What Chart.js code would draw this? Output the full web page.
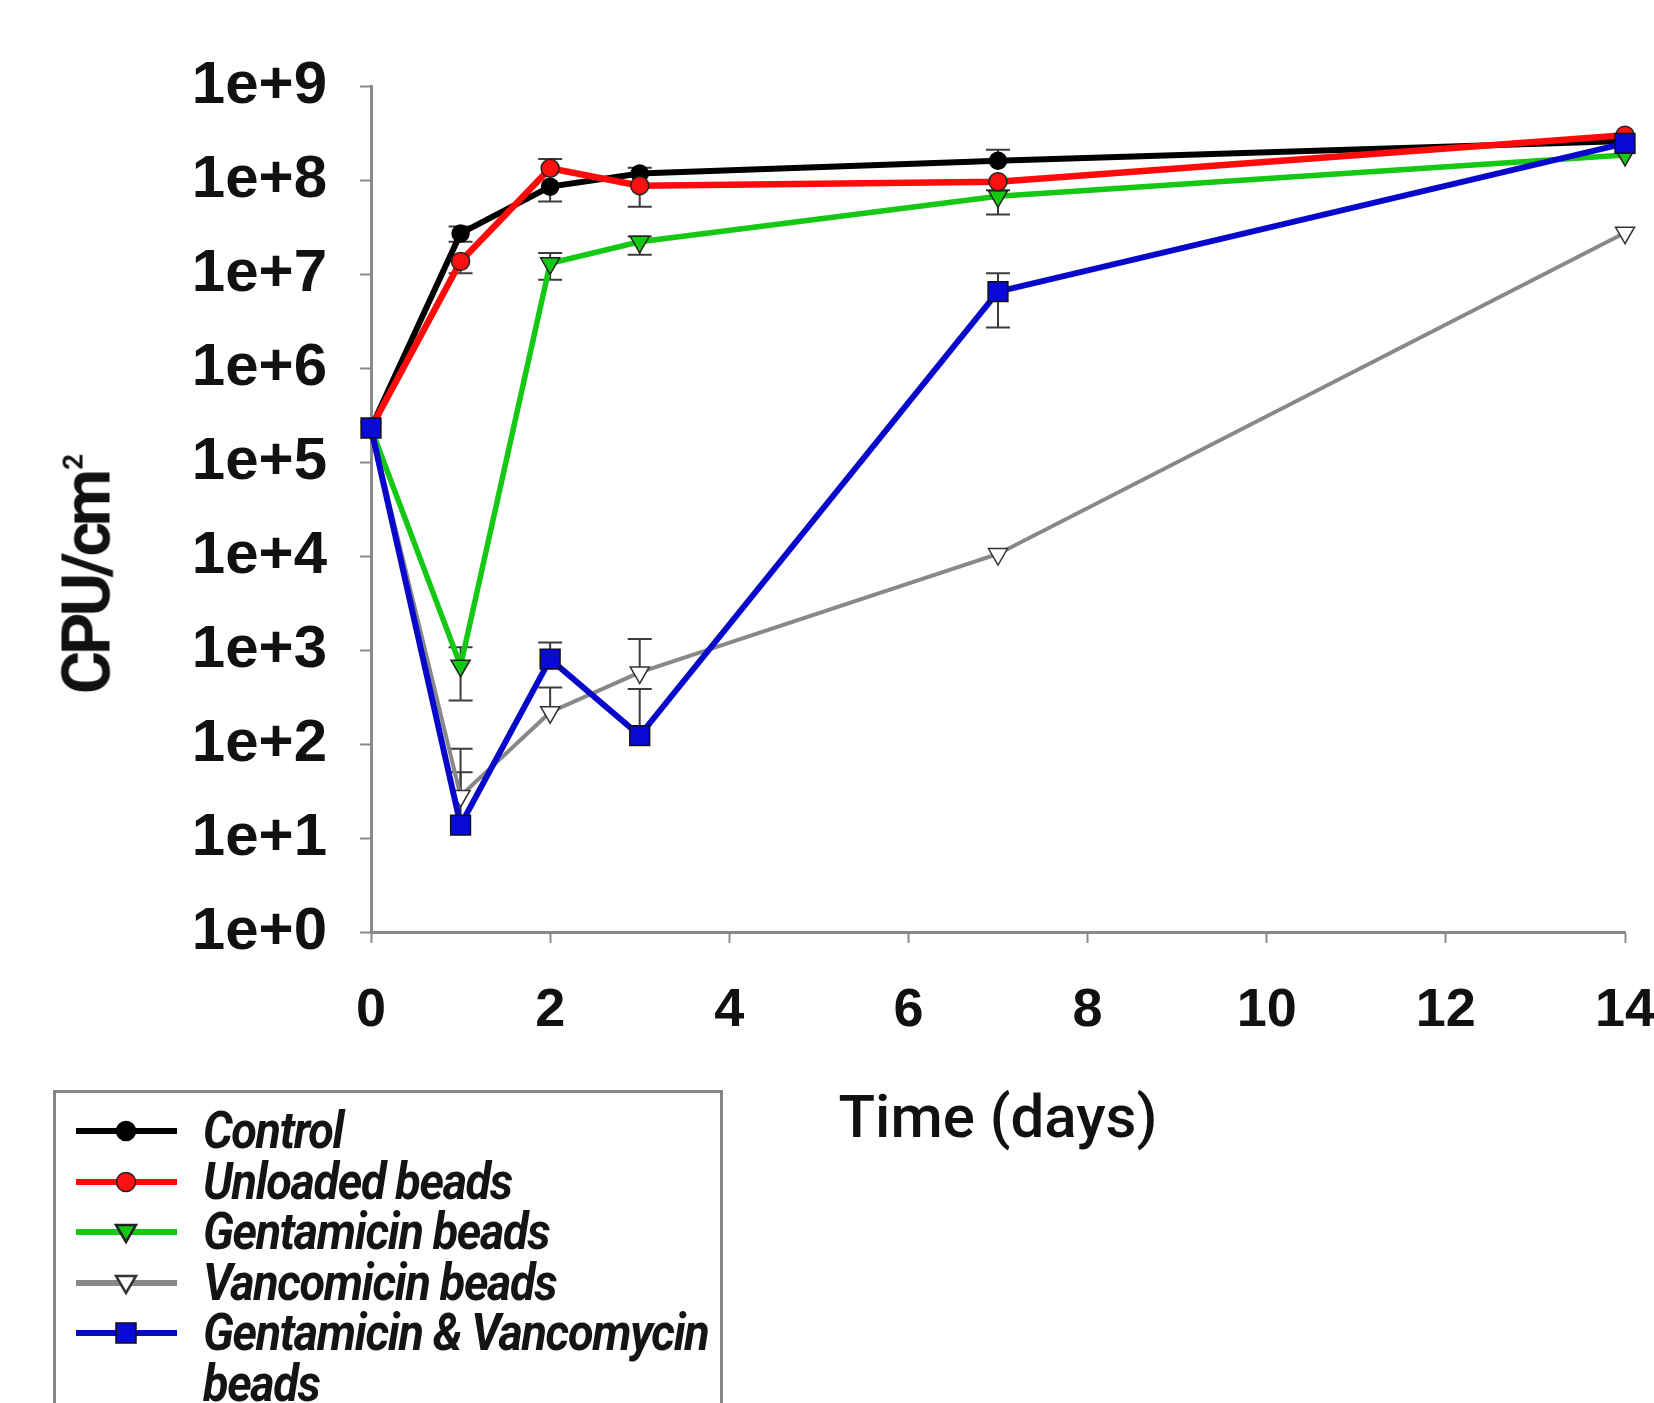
<!DOCTYPE html>
<html>
<head>
<meta charset="utf-8">
<script src="https://cdn.jsdelivr.net/npm/chart.js@4.4.0/dist/chart.umd.min.js"></script>
<style>
  body { margin: 0; background: #fff; }
  #wrap { position: relative; width: 1654px; height: 1403px; overflow: hidden; }
  #chart { position: absolute; left: 0; top: 0; }
  #ytitle {
    position: absolute; left: 87px; top: 574px;
    transform: translate(-50%, -50%) rotate(-90deg);
    font: 700 66px Roboto, sans-serif; color: #111; white-space: nowrap; letter-spacing: -4px;
  }
  #ytitle .sup { font-size: 28px; position: relative; top: -27px; vertical-align: baseline; letter-spacing: 0; margin-left: 3px; }
  #legend {
    position: absolute; left: 53px; top: 1090px; width: 670px; height: 420px;
    border: 3px solid #858585; box-sizing: border-box;
  }
  .item { position: absolute; left: 20px; height: 50px; }
  .item svg { position: absolute; left: 0; top: 0; }
  .item .txt {
    position: absolute; left: 127px; top: 0; width: 600px;
    font: italic 700 52px Roboto, sans-serif; color: #141414; line-height: 50.6px;
    transform: scaleX(0.9); transform-origin: 0 0; letter-spacing: -1.5px;
  }
</style>
</head>
<body>
<div id="wrap">
  <canvas id="chart" width="1654" height="1403"></canvas>
  <div id="ytitle">CPU/cm<span class="sup">2</span></div>
  <div id="legend"></div>
</div>
<script>
// time points (days)
const days = [0, 1, 2, 3, 7, 14];

const seriesNames = ['Control', 'Unloaded beads', 'Gentamicin beads', 'Vancomicin beads', 'Gentamicin & Vancomycin beads'];

// CFU per cm2
const control    = [2.3e5, 2.7e7, 8.5e7, 1.17e8, 1.6e8, 2.6e8];
const unloaded   = [2.3e5, 1.36e7, 1.33e8, 8.7e7, 9.6e7, 3.0e8];
const gentamicin = [2.3e5, 680, 1.3e7, 2.2e7, 6.7e7, 1.85e8];
const vancomicin = [2.3e5, 28, 218, 578, 1.05e4, 2.75e7];
const combined   = [2.3e5, 13.7, 800, 123, 6.5e6, 2.45e8];

// error bar ends [lower, upper], null where not shown
const controlErr    = [null, [2.2e7, 3.2e7], [5.9e7, null], [null, 1.35e8], [null, 2.1e8], null];
const unloadedErr   = [null, [1.02e7, null], [null, 1.67e8], [5.2e7, null], [7.8e7, null], null];
const gentamicinErr = [null, [290, 1070], [8.7e6, 1.67e7], [1.6e7, 2.5e7], [4.3e7, null], null];
const vancomicinErr = [null, [null, 89], [null, 400], [null, 1310], null, null];
const combinedErr   = [null, [null, 50], [null, 1200], [null, 385], [2.7e6, 1.02e7], null];

const yTickValues = [1, 1e1, 1e2, 1e3, 1e4, 1e5, 1e6, 1e7, 1e8, 1e9];
const yTickLabels = ['1e+0', '1e+1', '1e+2', '1e+3', '1e+4', '1e+5', '1e+6', '1e+7', '1e+8', '1e+9'];
const xTickValues = [0, 2, 4, 6, 8, 10, 12, 14];

function pts(vals) { return vals.map((v, i) => ({ x: days[i], y: v })); }

const errorBars = {
  id: 'errorBars',
  beforeDatasetsDraw(chart) {
    const { ctx, scales: { x, y } } = chart;
    ctx.save();
    ctx.strokeStyle = '#3c3c3c';
    ctx.lineWidth = 2;
    chart.data.datasets.forEach(ds => {
      ds.errors.forEach((e, i) => {
        if (!e) return;
        const px = x.getPixelForValue(days[i]);
        const py = y.getPixelForValue(ds.data[i].y);
        e.forEach(end => {
          if (end == null) return;
          const ey = y.getPixelForValue(end);
          ctx.beginPath();
          ctx.moveTo(px, py); ctx.lineTo(px, ey);
          ctx.moveTo(px - 12, ey); ctx.lineTo(px + 12, ey);
          ctx.stroke();
        });
      });
    });
    ctx.restore();
  }
};

const datasets = [
  { label: seriesNames[0], data: pts(control), errors: controlErr, borderColor: '#000', borderWidth: 6,
    pointStyle: 'circle', pointRadius: 8.5, pointBackgroundColor: '#000', pointBorderColor: '#000', order: 3 },
  { label: seriesNames[1], data: pts(unloaded), errors: unloadedErr, borderColor: '#ff0a0a', borderWidth: 6.5,
    pointStyle: 'circle', pointRadius: 9, pointBackgroundColor: '#ff1010', pointBorderColor: '#222', order: 1 },
  { label: seriesNames[2], data: pts(gentamicin), errors: gentamicinErr, borderColor: '#14c814', borderWidth: 5.5,
    pointStyle: 'triangle', pointRotation: 180, pointRadius: 11, pointBackgroundColor: '#14c814', pointBorderColor: '#222', order: 2 },
  { label: seriesNames[3], data: pts(vancomicin), errors: vancomicinErr, borderColor: '#888', borderWidth: 4,
    pointStyle: 'triangle', pointRotation: 180, pointRadius: 11, pointBackgroundColor: '#fff', pointBorderColor: '#333', order: 4 },
  { label: seriesNames[4], data: pts(combined), errors: combinedErr, borderColor: '#0808cc', borderWidth: 6,
    pointStyle: 'rect', pointRadius: 14, pointBackgroundColor: '#0a0ad8', pointBorderColor: '#111', order: 0 },
];
datasets.forEach(d => { d.pointBorderWidth = 1.5; d.tension = 0; d.fill = false; d.clip = false; });

const chart = new Chart(document.getElementById('chart'), {
  type: 'line',
  data: { datasets },
  options: {
    responsive: false,
    animation: false,
    layout: { padding: { top: 86, right: 29, bottom: 0, left: 0 } },
    plugins: { legend: { display: false }, tooltip: { enabled: false } },
    scales: {
      x: {
        type: 'linear', min: 0, max: 14,
        afterFit(s) { s.height = 471; s.paddingLeft = 0; s.paddingRight = 0; },
        afterBuildTicks(s) { s.ticks = xTickValues.map(v => ({ value: v })); },
        grid: { drawOnChartArea: false, drawTicks: true, tickLength: 11, tickColor: '#8a8a8a', tickWidth: 2 },
        border: { display: true, color: '#8a8a8a', width: 3 },
        ticks: { color: '#111', padding: 36, maxRotation: 0, font: { family: 'Liberation Sans', weight: 'bold', size: 54 } },
        title: { display: true, text: 'Time (days)', color: '#111', padding: { top: 0, bottom: 245 },
          font: { family: 'Roboto', weight: '500', size: 60 } }
      },
      y: {
        type: 'logarithmic', min: 1, max: 1e9,
        afterFit(s) { s.width = 371; },
        afterBuildTicks(s) { s.ticks = yTickValues.map(v => ({ value: v })); },
        grid: { drawOnChartArea: false, drawTicks: true, tickLength: 11, tickColor: '#8a8a8a', tickWidth: 2 },
        border: { display: true, color: '#8a8a8a', width: 3 },
        ticks: {
          color: '#111', padding: 33, font: { family: 'Liberation Sans', weight: 'bold', size: 60 },
          callback: (v) => { const k = yTickValues.indexOf(v); return k >= 0 ? yTickLabels[k] : ''; }
        }
      }
    }
  },
  plugins: [errorBars]
});

// html legend built from the datasets
const legend = document.getElementById('legend');
chart.data.datasets.forEach((ds, i) => {
  const item = document.createElement('div');
  item.className = 'item';
  item.style.top = (13 + i * 50.6) + 'px';
  let mark = '';
  const f = ds.pointBackgroundColor, b = ds.pointBorderColor;
  if (ds.pointStyle === 'circle') mark = `<circle cx="50" cy="25" r="9.5" fill="${f}" stroke="${b}" stroke-width="1.5"/>`;
  else if (ds.pointStyle === 'triangle') mark = `<polygon points="40,18 60,18 50,35" fill="${f}" stroke="${b}" stroke-width="2.5"/>`;
  else mark = `<rect x="40" y="15" width="20" height="20" fill="${f}" stroke="${b}" stroke-width="1.5"/>`;
  item.innerHTML = `<svg width="101" height="50"><line x1="0" y1="25" x2="101" y2="25" stroke="${ds.borderColor}" stroke-width="6"/>${mark}</svg>` +
    `<div class="txt">${ds.label.replace('&', '&amp;')}</div>`;
  legend.appendChild(item);
});
</script>
</body>
</html>
